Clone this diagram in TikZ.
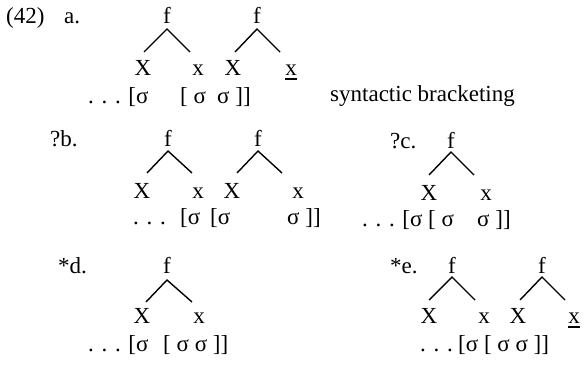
\documentclass[tikz,border=0pt]{standalone}
\usepackage{fontspec}
\setmainfont{Liberation Serif}
\begin{document}
\begin{tikzpicture}[x=1pt,y=-1pt,
  t/.style={inner sep=0pt,anchor=base,font=\fontsize{23}{27}\selectfont},
  tw/.style={t,anchor=base west},
  branch/.style={line width=1.4pt,line join=miter},
  uline/.style={line width=1.4pt}]
\useasboundingbox (0,0) rectangle (585,364);
% ---------- (42) a.
\node[tw] (num) at (6,23) {(42)};
\node[tw] (la) at (64,23) {a.};
\node[t] (af1) at (167,23) {f};
\node[t] (af2) at (257,23) {f};
\node[t] (aX1) at (143,75) {X};
\node[t] (ax1) at (198,75) {x};
\node[t] (aX2) at (233,75) {X};
\node[t] (ax2) at (291,75) {x};
\draw[uline] ([yshift=-4pt]ax2.base west) -- ([yshift=-4pt]ax2.base east);
\coordinate (a1t) at (167,29); \coordinate (a1l) at (144,52); \coordinate (a1r) at (190,52);
\coordinate (a2t) at (257,29); \coordinate (a2l) at (235,52); \coordinate (a2r) at (280,52);
\draw[branch] (a1l) -- (a1t) -- (a1r);
\draw[branch] (a2l) -- (a2t) -- (a2r);
\node[tw] (ab1) at (88,103) {. . . [σ};
\node[tw] (ab2) at (180,103) {[ σ};
\node[tw] (ab3) at (217,103) {σ ]]};
\node[tw] (syn) at (330,101) {syntactic bracketing};
% ---------- ?b.
\node[tw] (lb) at (50,146) {?b.};
\node[t] (bf1) at (168,146) {f};
\node[t] (bf2) at (258,146) {f};
\node[t] (bX1) at (142,198) {X};
\node[t] (bx1) at (198,198) {x};
\node[t] (bX2) at (232,198) {X};
\node[t] (bx2) at (298,198) {x};
\coordinate (b1t) at (168,151); \coordinate (b1l) at (147,173); \coordinate (b1r) at (192,173);
\coordinate (b2t) at (258,151); \coordinate (b2l) at (237,173); \coordinate (b2r) at (282,173);
\draw[branch] (b1l) -- (b1t) -- (b1r);
\draw[branch] (b2l) -- (b2t) -- (b2r);
\node[tw] (bb1) at (133,224) {. . .};
\node[tw] (bb2) at (180,224) {[σ};
\node[tw] (bb3) at (210,224) {[σ};
\node[tw] (bb4) at (287,224) {σ ]]};
% ---------- ?c.
\node[tw] (lc) at (390,148) {?c.};
\node[t] (cf1) at (451,148) {f};
\node[t] (cX1) at (429,200) {X};
\node[t] (cx1) at (486,200) {x};
\coordinate (c1t) at (451,152); \coordinate (c1l) at (429,175); \coordinate (c1r) at (474,175);
\draw[branch] (c1l) -- (c1t) -- (c1r);
\node[tw] (cb1) at (362,226) {. . . [σ [ σ};
\node[tw] (cb2) at (477,226) {σ ]]};
% ---------- *d.
\node[tw] (ld) at (58,273) {*d.};
\node[t] (df1) at (167,273) {f};
\node[t] (dX1) at (142,323) {X};
\node[t] (dx1) at (199,323) {x};
\coordinate (d1t) at (167,280); \coordinate (d1l) at (146,302); \coordinate (d1r) at (192,302);
\draw[branch] (d1l) -- (d1t) -- (d1r);
\node[tw] (db1) at (88,351) {. . . [σ};
\node[tw] (db2) at (163,351) {[ σ σ ]]};
% ---------- *e.
\node[tw] (le) at (390,273) {*e.};
\node[t] (ef1) at (452,273) {f};
\node[t] (ef2) at (542,273) {f};
\node[t] (eX1) at (429,323) {X};
\node[t] (ex1) at (484,323) {x};
\node[t] (eX2) at (518,323) {X};
\node[t] (ex2) at (574,323) {x};
\draw[uline] ([yshift=-4pt]ex2.base west) -- ([yshift=-4pt]ex2.base east);
\coordinate (e1t) at (452,277); \coordinate (e1l) at (429,300); \coordinate (e1r) at (475,300);
\coordinate (e2t) at (542,277); \coordinate (e2l) at (520,300); \coordinate (e2r) at (565,300);
\draw[branch] (e1l) -- (e1t) -- (e1r);
\draw[branch] (e2l) -- (e2t) -- (e2r);
\node[tw] (eb1) at (420,351) {. . .};
\node[tw] (eb2) at (458,351) {[σ [ σ σ ]]};
\end{tikzpicture}
\end{document}
